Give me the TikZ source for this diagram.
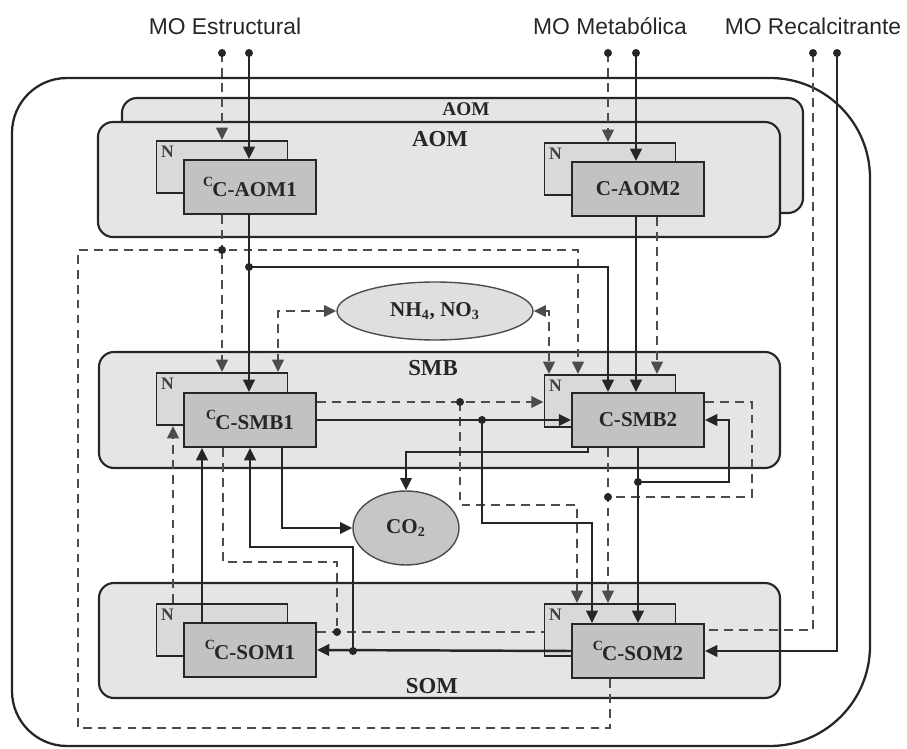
\documentclass[tikz,border=0pt]{standalone}
\usepackage{fontspec}
\setmainfont{Liberation Serif}
\newfontfamily\mofont{Liberation Sans}
\usetikzlibrary{arrows.meta,shapes.geometric}
\pgfdeclarelayer{fore}
\pgfsetlayers{main,fore}

\tikzset{
  molbl/.style={font=\mofont\fontsize{13}{15}\selectfont, text=black!85, inner sep=0pt},
  poolbox/.style={draw=black!85, line width=1.2pt, rounded corners=0.3cm, fill=gray!20},
  poollbl/.style={font=\fontsize{13}{13}\selectfont\bfseries, text=black!85, inner sep=0pt},
  nbox/.style={draw=black!85, line width=1.1pt, fill=gray!30, minimum width=2.62cm,
    minimum height=1.04cm, inner sep=0pt,
    label={[anchor=north west, inner sep=3pt, font=\fontsize{10}{10}\selectfont\bfseries, text=black!75]north west:N}},
  cbox/.style={draw=black!85, line width=1.1pt, fill=gray!48, minimum width=2.64cm,
    minimum height=1.08cm, inner sep=0pt, font=\fontsize{12}{12}\selectfont\bfseries, text=black!85},
  pool/.style={draw=black!70, line width=0.8pt, ellipse, inner sep=0pt,
    font=\fontsize{12}{12}\selectfont\bfseries, text=black!85},
  cline/.style={line width=1.4pt, draw=black!85},
  nline/.style={line width=1.2pt, draw=black!70, dash pattern=on 5pt off 3.5pt},
  flecha/.style={-{Triangle[length=7pt,width=6.5pt]}},
  flechas/.style={{Triangle[length=7pt,width=6.5pt]}-{Triangle[length=7pt,width=6.5pt]}}
}
\newcommand{\preC}{\raisebox{0.45em}{\fontsize{8}{8}\selectfont C}\kern-0.5pt}

\begin{document}
\begin{tikzpicture}[x=0.02cm, y=-0.02cm]
\useasboundingbox (0,0) rectangle (907,749);

% Entradas de materia organica
\node[molbl] (tE) at (225,26) {MO Estructural};
\node[molbl] (tM) at (610,26) {MO Metabólica};
\node[molbl] (tR) at (813,26) {MO Recalcitrante};
\coordinate (inEN) at (222,53);
\coordinate (inEC) at (249,53);
\coordinate (inMN) at (608,53);
\coordinate (inMC) at (636,53);
\coordinate (inRN) at (813,53);
\coordinate (inRC) at (837,53);

% Caja exterior
\draw[line width=1.3pt, draw=black!85] (440,746) [rounded corners=1.1cm] -- (12,746) -- (12,78)
  [rounded corners=2cm] -- (870,78) -- (870,746) -- cycle;

% Compartimentos
\draw[poolbox] (122,98) rectangle (803,213);
\node[poollbl, font=\fontsize{11}{11}\selectfont\bfseries] (lAOMb) at (466,109) {AOM};
\draw[poolbox] (98,122) rectangle (780,237);
\node[poollbl] (lAOM) at (440,139) {AOM};
\draw[poolbox] (99,352) rectangle (780,468);
\node[poollbl] (lSMB) at (433,368) {SMB};
\draw[poolbox] (99,583) rectangle (780,698);
\node[poollbl] (lSOM) at (432,686) {SOM};

% Pools minerales y CO2
\node[pool, fill=gray!25, minimum width=3.92cm, minimum height=1.16cm] (nh) at (435,311) {NH\textsubscript{4}, NO\textsubscript{3}};
\node[pool, fill=gray!45, minimum width=2.12cm, minimum height=1.48cm] (co) at (406,528) {CO\textsubscript{2}};

% Cajas de N
\node[nbox] (nAOM1) at (222,167) {};
\node[nbox] (nAOM2) at (610,169) {};
\node[nbox] (nSMB1) at (222,399) {};
\node[nbox] (nSMB2) at (610,401) {};
\node[nbox] (nSOM1) at (222,630) {};
\node[nbox] (nSOM2) at (610,630) {};

% Cajas de C (capa superior)
\begin{pgfonlayer}{fore}
\node[cbox] (cAOM1) at (250,187) {\preC C-AOM1};
\node[cbox] (cAOM2) at (638,189) {C-AOM2};
\node[cbox] (cSMB1) at (250,420) {\preC C-SMB1};
\node[cbox] (cSMB2) at (638,420) {C-SMB2};
\node[cbox] (cSOM1) at (250,650) {\preC C-SOM1};
\node[cbox] (cSOM2) at (638,651) {\preC C-SOM2};
\end{pgfonlayer}

% Puntos de union
\coordinate (jN1) at (222,250);
\coordinate (jC1) at (249,267);
\coordinate (jC1r) at (608,267);
\coordinate (lpA) at (610,728);
\coordinate (lpB) at (78,728);
\coordinate (lpC) at (78,250);
\coordinate (lpD) at (578,250);
\coordinate (nhL) at (278,311);
\coordinate (nhR) at (549,311);
\coordinate (xA) at (657,0);
\coordinate (dS1) at (460,402);
\coordinate (dS1b) at (460,505);
\coordinate (dS1c) at (577,505);
\coordinate (cS1) at (482,420);
\coordinate (cS1b) at (482,523);
\coordinate (cS1c) at (592,523);
\coordinate (co1) at (588,452);
\coordinate (co2) at (282,528);
\coordinate (xU) at (202,0);
\coordinate (xN) at (173,0);
\coordinate (rt1) at (353,651);
\coordinate (rt2) at (353,547);
\coordinate (rt3) at (250,547);
\coordinate (dq1) at (223,562);
\coordinate (dq2) at (337,562);
\coordinate (dq3) at (337,632);
\coordinate (lp2) at (638,482);
\coordinate (lp3) at (729,482);
\coordinate (rq1) at (752,402);
\coordinate (rq2) at (752,497);
\coordinate (rq3) at (608,497);

% Flujos de N (discontinuos)
\draw[nline, flecha] (inEN) -- (inEN |- nAOM1.north);
\draw[nline, flecha] (inMN) -- (inMN |- nAOM2.north);
\draw[nline] (inRN) |- (cSOM2.east |- nSOM2.center);
\draw[nline] (cAOM1.south -| jN1) -- (jN1);
\draw[nline, flecha] (jN1) -- (jN1 |- nSMB1.north);
\draw[nline, flecha] (cSOM2.south -| lpA) -- (lpA) -- (lpB) -- (lpC) -- (lpD) -- (lpD |- nSMB2.north);
\draw[nline, flechas] (nh.west) -- (nhL) -- (nhL |- nSMB1.north);
\draw[nline, flechas] (nh.east) -- (nhR) -- (nhR |- nSMB2.north);
\draw[nline, flecha] (cAOM2.south -| xA) -- (xA |- nSMB2.north);
\draw[nline, flecha] (cSMB1.east |- dS1) -- (nSMB2.west |- dS1);
\draw[nline, flecha] (dS1) -- (dS1b) -- (dS1c) -- (dS1c |- nSOM2.north);
\draw[nline, flecha] (nSOM1.north -| xN) -- (xN |- nSMB1.south);
\draw[nline] (cSMB1.south -| dq1) -- (dq1) -- (dq2) -- (dq3);
\draw[nline] (cSOM1.east |- dq3) -- (nSOM2.west |- dq3);
\draw[nline] (cSMB2.east |- rq1) -- (rq1) -- (rq2) -- (rq3);
\draw[nline, flecha] (cSMB2.south -| rq3) -- (rq3 |- nSOM2.north);

% Flujos de C (continuos)
\draw[cline, flecha] (inEC) -- (inEC |- cAOM1.north);
\draw[cline, flecha] (inMC) -- (inMC |- cAOM2.north);
\draw[cline, flecha] (inRC) |- (cSOM2.east);
\draw[cline, flecha] (cAOM1.south -| jC1) -- (jC1 |- cSMB1.north);
\draw[cline, flecha] (jC1) -- (jC1r) -- (jC1r |- cSMB2.north);
\draw[cline, flecha] (cAOM2.south -| inMC) -- (inMC |- cSMB2.north);
\draw[cline, flecha] (cSMB1.east) -- (cSMB2.west);
\draw[cline, flecha] (cS1) -- (cS1b) -- (cS1c) -- (cS1c |- cSOM2.north);
\draw[cline, flecha] (cSMB2.south -| co1) -- (co1) -| (co.north);
\draw[cline, flecha] (cSMB1.south -| co2) |- (co.west);
\draw[cline, flecha] (cSOM1.north -| xU) -- (xU |- cSMB1.south);
\draw[cline, flecha] (rt1) -- (rt2) -- (rt3) -- (rt3 |- cSMB1.south);
\draw[cline, flecha] (cSOM2.west) -- (cSOM1.east);
\draw[cline, flecha] (cSMB2.south) -- (cSOM2.north);
\draw[cline, flecha] (lp2) -- (lp3) |- (cSMB2.east);

% Puntos
\foreach \p in {inEN,inEC,inMN,inMC,inRN,inRC,jN1,jC1,dS1,cS1,rt1,dq3,lp2,rq3}
  \fill[black!85] (\p) circle[radius=0.08cm];
\end{tikzpicture}
\end{document}
